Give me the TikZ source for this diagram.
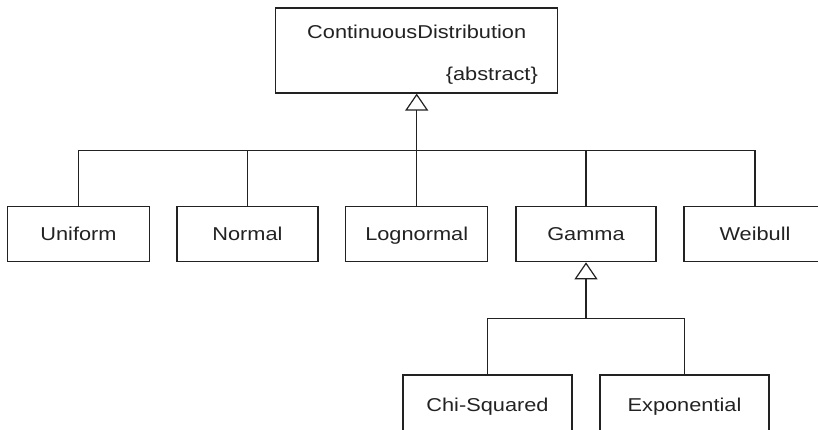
\documentclass[tikz,border=0pt]{standalone}
\usepackage{fontspec}
\setmainfont{Liberation Sans}[FakeStretch=1.17]
\usetikzlibrary{arrows.meta}
\definecolor{ink}{HTML}{222222}
\begin{document}
\begin{tikzpicture}[x=1pt,y=-1pt,
  font=\fontsize{18.6}{22}\selectfont,
  every node/.style={text=ink},
  box/.style={draw=ink, line width=1.2pt, rectangle, inner sep=0pt,
    minimum height=55pt, text height=13.3pt, text depth=0pt, align=center},
  conn/.style={draw=ink, line width=1.2pt},
  gen/.style={conn, -{Triangle[open, length=17pt, width=23pt, line width=1.2pt]}}]
\useasboundingbox (0,0) rectangle (818,429);
\clip (0,0) rectangle (818,429);
% top class
\node[box, minimum width=281.7pt, minimum height=85pt] (top) at (416.7,50.5) {};
\node[anchor=base, inner sep=0pt] (topname) at (416.7,38.3) {ContinuousDistribution};
\node[anchor=base east, inner sep=0pt] (abs) at (538,80) {\{abstract\}};
% second row
\node[box, minimum width=142pt] (uniform) at (78.5,234.2) {Uniform};
\node[box, minimum width=141pt] (normal) at (247.5,234.2) {Normal};
\node[box, minimum width=142pt] (lognormal) at (416.7,234.2) {Lognormal};
\node[box, minimum width=140pt] (gamma) at (586,234.2) {Gamma};
\node[box, minimum width=142pt] (weibull) at (755,234.2) {Weibull};
% third row (cut off by the lower edge)
\node[box, minimum width=169pt, minimum height=60pt] (chi) at (487.5,405) {Chi-Squared};
\node[box, minimum width=169pt, minimum height=60pt] (expo) at (684.5,405) {Exponential};
% buses
\coordinate (bus1) at (416.7,150.7);
\coordinate (bus2) at (586,318.7);
\draw[conn] (uniform.north) |- (bus1) -| (weibull.north);
\draw[conn] (normal.north) -- (normal.north |- bus1);
\draw[conn] (gamma.north) -- (gamma.north |- bus1);
\draw[gen] (lognormal.north) -- (top.south);
\draw[conn] (chi.north) |- (bus2) -| (expo.north);
\draw[gen] (bus2) -- (gamma.south);
\end{tikzpicture}
\end{document}
